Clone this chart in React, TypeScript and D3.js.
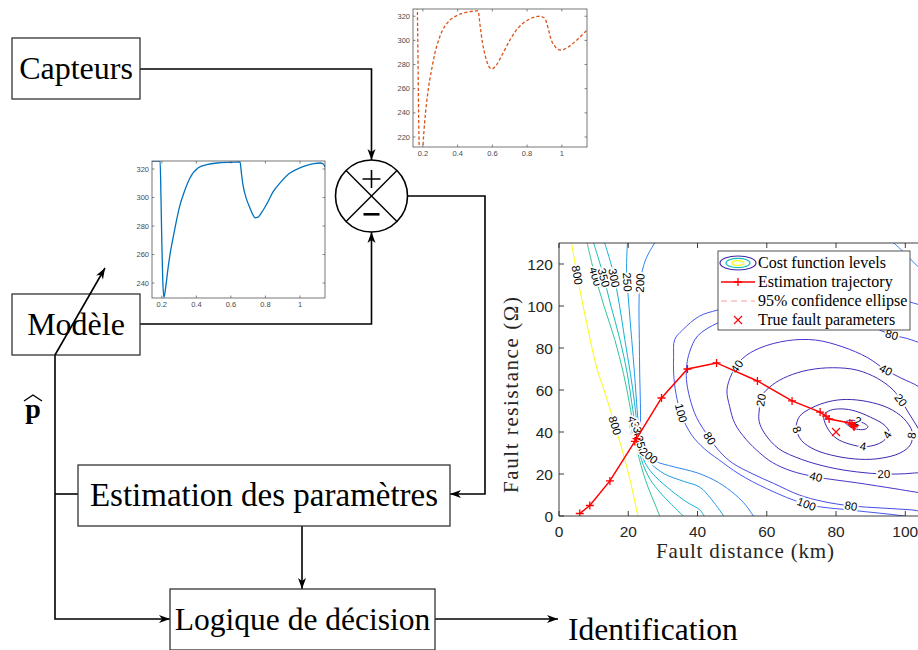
import React from 'react';
import * as d3 from 'd3';

type Pt = [number, number];

// ---------- Inset series: simulated model response and measured response ----------
const modelT = [0.143, 0.19, 0.195, 0.2, 0.205, 0.212, 0.22, 0.236, 0.25, 0.265, 0.285, 0.305, 0.33, 0.363, 0.409, 0.46, 0.52, 0.6, 0.653, 0.66, 0.67, 0.69, 0.71, 0.725, 0.74, 0.755, 0.78, 0.81, 0.844, 0.89, 0.942, 1.0, 1.04, 1.08, 1.116, 1.135, 1.145];
const modelV = [325.5, 325.5, 300, 268, 243, 230, 235, 250.5, 262, 271.6, 284, 294.7, 304, 313.7, 320.7, 323, 324.2, 324.7, 325, 318, 308.8, 299, 292.7, 288.5, 285.7, 286, 289.9, 296, 303.9, 311, 317.2, 320.8, 322.6, 323.7, 324.2, 323.5, 321.4];

const sensorT = [0.168, 0.171, 0.174, 0.177, 0.181, 0.187, 0.193, 0.2, 0.21, 0.229, 0.252, 0.27, 0.287, 0.31, 0.345, 0.402, 0.45, 0.5, 0.518, 0.529, 0.543, 0.558, 0.578, 0.598, 0.62, 0.656, 0.7, 0.748, 0.8, 0.846, 0.872, 0.9, 0.944, 0.97, 0.99, 1.012, 1.036, 1.08, 1.134, 1.145];
const sensorV = [328, 295, 255, 222, 200, 188, 195, 212, 232, 257.3, 277.1, 290, 298.7, 307.5, 315.2, 321, 323.3, 324.3, 324.5, 312.7, 298, 287.9, 279, 276.3, 279, 287.9, 300, 310.3, 316.5, 319.4, 320, 318.5, 298.7, 293.5, 292, 292.6, 294.5, 299.5, 307, 308.5];

const insetTimeTicks = [0.2, 0.4, 0.6, 0.8, 1];
const sensorValueTicks = [220, 240, 260, 280, 300, 320];
const modelValueTicks = [240, 260, 280, 300, 320];

// ---------- Cost-function contour lines: [fault distance (km), fault resistance (Ω)] ----------
const contourLevels = [2, 4, 8, 20, 40, 80, 100, 200, 250, 300, 350, 400, 800];

const c2: Pt[] = [[82.6, 44.6], [84, 45.5], [86, 45.4], [88, 44.2], [89.2, 42.6], [88.5, 41.4], [86.5, 41.2], [84.2, 42.4]];
const c4: Pt[] = [[76.5, 48], [78.3, 50.3], [81.7, 51], [85.5, 50], [90, 47], [93.8, 43.5], [95.3, 40], [93.5, 35.5], [88.6, 33], [84, 34.2], [80, 37.1], [77.3, 42.5]];
const c8: Pt[] = [[68.5, 42], [69.5, 47.5], [73, 51.5], [78, 54.5], [83, 55.5], [89, 54.5], [95, 51.5], [99.5, 46.5], [102, 40], [101.5, 34], [98.5, 30], [93, 27.5], [87, 27], [80, 28.5], [74, 31.5], [70, 36]];
const c20: Pt[] = [[57.8, 50], [58.5, 57], [61.6, 62.4], [66, 66.5], [72, 69.5], [79, 70.6], [86, 69.5], [92, 65.5], [96.5, 60], [98.7, 55.2], [101, 49], [104, 41], [107, 32], [107, 22], [102, 20.4], [93.8, 20], [86, 21], [78, 23.2], [70, 27], [63.5, 32], [59.5, 39], [57.8, 45]];
const c40: Pt[] = [[48.5, 60], [49.3, 52], [50.8, 44], [54, 36.5], [58, 30], [61.6, 25.5], [67, 21.5], [74.2, 18.6], [86, 15.8], [97, 13], [103, 11.4], [112, 9.5], [115, 30], [110, 52], [104, 61.4], [99, 65.5], [94.4, 69.5], [89, 75.5], [82, 80.5], [74, 83.8], [66, 83.5], [58, 80], [53, 75], [50, 68]];
const c80: Pt[] = [[36.9, 72], [36.8, 65], [37.8, 56], [39.7, 47], [43.5, 37], [46.5, 30.5], [50.1, 25.2], [56, 20], [62, 15.5], [69.4, 10], [76, 7], [84.3, 4.8], [93.2, 3.8], [101.9, 2.9], [112, 1.5], [118, 40], [110, 77], [101.9, 83.8], [96.1, 86.3], [88, 91.5], [78, 95.5], [67, 97.5], [57, 96], [50, 94], [45.8, 91.9], [40, 85.7], [37.7, 78]];
const c100: Pt[] = [[33.4, 84], [33.1, 76], [33.1, 68], [33.8, 58], [35.4, 48], [38.3, 38.6], [42, 32], [46, 27], [52, 20], [60, 13], [71.7, 5.5], [84.9, 2.7], [99.6, 0], [110, -3], [122, 30], [118, 90], [102.4, 101.4], [90, 105.5], [75, 107], [60, 104.5], [45.8, 98.1], [40.6, 95.2], [35.7, 88.6]];
const c200a: Pt[] = [[28, 131], [25, 122], [23.4, 111], [23.1, 100], [23.2, 84], [23.3, 68], [23.5, 54], [23.6, 42], [23.8, 36], [25, 30], [28, 26], [33, 23.5], [40, 20.5], [46, 16], [51, 10], [54, 5], [56.5, -1]];
const c200b: Pt[] = [[96, 131], [99, 126.5], [103.5, 119], [108, 112]];
const c250: Pt[] = [[19.8, 131], [19.5, 117], [20.2, 100], [21, 84], [21.8, 68], [22.4, 54], [23, 42], [23.3, 36], [24.3, 30], [26.5, 25], [30.5, 20], [36, 16.5], [40.6, 13.8], [44, 8], [48, -1]];
const c300: Pt[] = [[13, 131], [15.5, 117], [17.5, 100], [19, 84], [20.6, 68], [21.8, 54], [22.6, 42], [22.9, 36], [23.8, 30], [25.3, 24], [28, 18.5], [32.5, 12], [37, 6.5], [40.6, 3], [42.3, -1]];
const c350: Pt[] = [[9.8, 131], [12.4, 117], [15, 100], [17.6, 84], [19.7, 68], [21, 54], [22.1, 42], [22.6, 36], [23.3, 30], [24.4, 24], [26.3, 17.5], [29.3, 11], [32.5, 5.5], [36.5, -1]];
const c400: Pt[] = [[8, 131], [10, 117], [13, 100], [16.1, 84], [18.6, 68], [20.3, 54], [21.6, 42], [22.3, 36], [22.8, 30], [23.7, 24], [25, 17], [26.6, 10], [28, 4.5], [29.3, -1]];
const c800: Pt[] = [[3.5, 131], [6, 108], [8.3, 89.5], [10.9, 70.5], [13.2, 59], [15.5, 46.7], [18.4, 30.5], [20.4, 18], [22.9, -1]];

const contourLines: { level: number; closed: boolean; pts: Pt[] }[] = [
  { level: 800, closed: false, pts: c800 },
  { level: 400, closed: false, pts: c400 },
  { level: 350, closed: false, pts: c350 },
  { level: 300, closed: false, pts: c300 },
  { level: 250, closed: false, pts: c250 },
  { level: 200, closed: false, pts: c200a },
  { level: 200, closed: false, pts: c200b },
  { level: 100, closed: true, pts: c100 },
  { level: 80, closed: true, pts: c80 },
  { level: 40, closed: true, pts: c40 },
  { level: 20, closed: true, pts: c20 },
  { level: 8, closed: true, pts: c8 },
  { level: 4, closed: true, pts: c4 },
  { level: 2, closed: true, pts: c2 },
];

// contour label: [level, distance, resistance]
const contourLabels: [number, number, number][] = [
  [800, 5.5, 114.8], [800, 16.7, 43.3],
  [400, 10.1, 113.8], [350, 12.4, 113.3], [300, 15.5, 113.3], [250, 19.3, 111.4], [200, 23, 111],
  [400, 21.4, 43], [350, 22.2, 40.5], [300, 22.9, 38], [250, 24, 34], [200, 26.5, 30],
  [100, 35.1, 49], [100, 71.4, 5.5],
  [80, 43.5, 37], [80, 84.3, 4.8], [80, 96.1, 86.3],
  [40, 51.5, 71], [40, 74.2, 18.6], [40, 94.4, 69.5],
  [20, 58.4, 55.2], [20, 93.8, 20], [20, 98.7, 55.2],
  [8, 68.5, 41], [8, 100.7, 38.6],
  [4, 87.8, 32.9], [4, 94.4, 39],
  [2, 86.3, 45.2],
];

// Gauss-Newton estimation trajectory
const trajDistance = [6.0, 8.9, 14.7, 21.9, 22.4, 29.6, 37.1, 45.5, 57.3, 67.3, 75.4, 77.1, 78.0, 84.0, 85.2, 84.6, 85.4, 85.0];
const trajResistance = [1.2, 5.0, 16.7, 35.5, 36.8, 56.2, 70.0, 72.9, 64.3, 54.8, 49.5, 47.6, 46.2, 44.3, 42.4, 43.6, 43.0, 42.8];
const trueFault: Pt = [80, 40];

const distanceTicks = [0, 20, 40, 60, 80, 100];
const resistanceTicks = [0, 20, 40, 60, 80, 100, 120];
const legendLabels = ['Cost function levels', 'Estimation trajectory', '95% confidence ellipse', 'True fault parameters'];

// parula-like colormap
const parulaStops = [0, 0.05, 0.12, 0.25, 0.31, 0.37, 0.44, 0.5, 0.62, 0.75, 0.88, 1];
const parulaColors = ['#3e26a8', '#4535d0', '#4856f0', '#2f86f2', '#1e9de6', '#10b2d6', '#18bdb9', '#35c49b', '#8cc45c', '#d7ba3f', '#fbc638', '#f9fb0e'];
const parula = d3.scaleLinear<string>().domain(parulaStops).range(parulaColors).interpolate(d3.interpolateRgb);
const lvMin = d3.min(contourLevels) as number;
const lvMax = d3.max(contourLevels) as number;
const levelColor = (lv: number) => parula((lv - lvMin) / (lvMax - lvMin));

const SERIF = '"Liberation Serif", "Times New Roman", serif';
const SANS = '"Liberation Sans", Arial, Helvetica, sans-serif';

// ---------- helpers ----------
function arrowHead(x1: number, y1: number, x2: number, y2: number, L = 11, w = 4) {
  const a = Math.atan2(y2 - y1, x2 - x1);
  const c = Math.cos(a), s = Math.sin(a);
  const bx = x2 - L * c, by = y2 - L * s;
  const nx = x2 - 0.72 * L * c, ny = y2 - 0.72 * L * s;
  return `M${x2},${y2}L${bx - w * s},${by + w * c}L${nx},${ny}L${bx + w * s},${by - w * c}Z`;
}

function Wire({ pts, arrow = true }: { pts: Pt[]; arrow?: boolean }) {
  const n = pts.length;
  const d = 'M' + pts.map((p) => p.join(',')).join('L');
  return (
    <g>
      <path d={d} fill="none" stroke="#000" strokeWidth={1.6} />
      {arrow && <path d={arrowHead(pts[n - 2][0], pts[n - 2][1], pts[n - 1][0], pts[n - 1][1])} fill="#000" />}
    </g>
  );
}

function Block({ x, y, w, h, label, size = 32 }: { x: number; y: number; w: number; h: number; label: string; size?: number }) {
  return (
    <g>
      <rect x={x} y={y} width={w} height={h} fill="#fff" stroke="#333" strokeWidth={1.3} />
      <text x={x + w / 2} y={y + h / 2 + size * 0.33} textAnchor="middle" fontFamily={SERIF} fontSize={size} fill="#000">
        {label}
      </text>
    </g>
  );
}

function Inset({ x0, y0, w, h, t, v, vDomain, vTicks, color, dashed }: {
  x0: number; y0: number; w: number; h: number; t: number[]; v: number[];
  vDomain: [number, number]; vTicks: number[]; color: string; dashed: boolean;
}) {
  const xs = d3.scaleLinear().domain([0.143, 1.145]).range([x0, x0 + w]);
  const ys = d3.scaleLinear().domain(vDomain).range([y0 + h, y0]);
  const line = d3.line<number>().x((_, i) => xs(t[i])).y((d) => ys(d)).curve(d3.curveMonotoneX);
  const id = `clip-${x0}`;
  return (
    <g>
      <rect x={x0} y={y0} width={w} height={h} fill="#fff" />
      <clipPath id={id}><rect x={x0} y={y0} width={w} height={h} /></clipPath>
      <path d={line(v) || ''} fill="none" stroke={color} strokeWidth={1.3} strokeDasharray={dashed ? '3.2,2.2' : undefined} clipPath={`url(#${id})`} />
      <rect x={x0} y={y0} width={w} height={h} fill="none" stroke="#555" strokeWidth={0.8} />
      {insetTimeTicks.map((tk) => (
        <g key={tk}>
          <line x1={xs(tk)} x2={xs(tk)} y1={y0 + h} y2={y0 + h - 2.5} stroke="#555" strokeWidth={0.7} />
          <line x1={xs(tk)} x2={xs(tk)} y1={y0} y2={y0 + 2.5} stroke="#555" strokeWidth={0.7} />
          <text x={xs(tk)} y={y0 + h + 9} textAnchor="middle" fontFamily={SANS} fontSize={7.5} fill="#4a4a4a">{tk}</text>
        </g>
      ))}
      {vTicks.map((tk) => (
        <g key={tk}>
          <line x1={x0} x2={x0 + 2.5} y1={ys(tk)} y2={ys(tk)} stroke="#555" strokeWidth={0.7} />
          <line x1={x0 + w} x2={x0 + w - 2.5} y1={ys(tk)} y2={ys(tk)} stroke="#555" strokeWidth={0.7} />
          <text x={x0 - 3} y={ys(tk) + 2.6} textAnchor="end" fontFamily={SANS} fontSize={7.5} fill="#4a4a4a">{tk}</text>
        </g>
      ))}
    </g>
  );
}

function ContourChart() {
  const left = 559, top = 243, bottom = 516;
  const xs = d3.scaleLinear().domain([0, 105]).range([left, left + 105 * 3.463]);
  const ys = d3.scaleLinear().domain([0, 130]).range([bottom, top]);
  const right = xs(105);
  const axis = '#262626';

  const pathOf = (pts: Pt[], closed: boolean) =>
    d3.line<Pt>().x((p) => xs(p[0])).y((p) => ys(p[1]))
      .curve(closed ? d3.curveCatmullRomClosed.alpha(0.5) : d3.curveCatmullRom.alpha(0.5))(pts) || '';

  // put each label on its contour, aligned with the local direction of the line
  const placed = contourLabels.map(([lv, lx, ly]) => {
    const px = xs(lx), py = ys(ly);
    let best = { d: Infinity, x: px, y: py, ang: 0 };
    contourLines.filter((c) => c.level === lv).forEach((c) => {
      const pts = c.pts.map((p) => [xs(p[0]), ys(p[1])]);
      const n = c.closed ? pts.length : pts.length - 1;
      for (let i = 0; i < n; i++) {
        const a = pts[i], b = pts[(i + 1) % pts.length];
        const dx = b[0] - a[0], dy = b[1] - a[1];
        const len2 = dx * dx + dy * dy || 1;
        let u = ((px - a[0]) * dx + (py - a[1]) * dy) / len2;
        u = Math.max(0, Math.min(1, u));
        const qx = a[0] + u * dx, qy = a[1] + u * dy;
        const dd = (qx - px) ** 2 + (qy - py) ** 2;
        if (dd < best.d) {
          let ang = (Math.atan2(dy, dx) * 180) / Math.PI;
          if (ang > 90) ang -= 180;
          if (ang < -90) ang += 180;
          best = { d: dd, x: qx, y: qy, ang };
        }
      }
    });
    return { lv, ...best };
  });

  const traj: Pt[] = trajDistance.map((d, i) => [d, trajResistance[i]]);
  const trajLine = d3.line<Pt>().x((p) => xs(p[0])).y((p) => ys(p[1]))(traj) || '';

  const lgX = 718, lgY = 251, lgW = 192, lgH = 79;
  const rowY = [263, 282, 301, 320];

  return (
    <g>
      <clipPath id="plotclip"><rect x={left} y={top} width={right - left} height={bottom - top} /></clipPath>
      <g clipPath="url(#plotclip)">
        {contourLines.map((c, i) => (
          <path key={i} d={pathOf(c.pts, c.closed)} fill="none" stroke={levelColor(c.level)} strokeWidth={1} />
        ))}
        {placed.map((p, i) => (
          <text key={i} transform={`translate(${p.x},${p.y}) rotate(${p.ang})`} textAnchor="middle" dy="0.35em"
            fontFamily={SANS} fontSize={11.5} fill="#000" stroke="#fff" strokeWidth={3.5} paintOrder="stroke">
            {p.lv}
          </text>
        ))}
        <path d={trajLine} fill="none" stroke="#ff0000" strokeWidth={1.5} />
        {traj.map((p, i) => (
          <path key={i} d={`M${xs(p[0]) - 4},${ys(p[1])}h8M${xs(p[0])},${ys(p[1]) - 4}v8`} stroke="#ff0000" strokeWidth={1.3} />
        ))}
        <path d={`M${xs(trueFault[0]) - 4},${ys(trueFault[1]) - 4}l8,8M${xs(trueFault[0]) - 4},${ys(trueFault[1]) + 4}l8,-8`} stroke="#ff0000" strokeWidth={1.1} />
      </g>
      {/* axes box and ticks */}
      <path d={`M${right},${top}H${left}V${bottom}H${right}`} fill="none" stroke={axis} strokeWidth={0.9} />
      {distanceTicks.map((t) => (
        <g key={t}>
          <line x1={xs(t)} x2={xs(t)} y1={bottom} y2={bottom - 5} stroke={axis} strokeWidth={0.9} />
          <line x1={xs(t)} x2={xs(t)} y1={top} y2={top + 5} stroke={axis} strokeWidth={0.9} />
          <text x={xs(t)} y={bottom + 21} textAnchor="middle" fontFamily={SANS} fontSize={15.5} fill={axis}>{t}</text>
        </g>
      ))}
      {resistanceTicks.map((t) => (
        <g key={t}>
          <line x1={left} x2={left + 5} y1={ys(t)} y2={ys(t)} stroke={axis} strokeWidth={0.9} />
          <text x={left - 6} y={ys(t)} dy="0.36em" textAnchor="end" fontFamily={SANS} fontSize={15.5} fill={axis}>{t}</text>
        </g>
      ))}
      <text x={745} y={558} textAnchor="middle" fontFamily={SERIF} fontSize={21} fill={axis} textLength={178} lengthAdjust="spacing">
        Fault distance (km)
      </text>
      <text transform="translate(518,395) rotate(-90)" textAnchor="middle" fontFamily={SERIF} fontSize={21} fill={axis} textLength={196} lengthAdjust="spacing">
        Fault resistance (Ω)
      </text>
      {/* legend */}
      <rect x={lgX} y={lgY} width={lgW} height={lgH} fill="#fff" stroke={axis} strokeWidth={0.8} />
      <ellipse cx={738} cy={rowY[0]} rx={18} ry={7} fill="none" stroke={levelColor(2)} strokeWidth={1.2} />
      <ellipse cx={738} cy={rowY[0]} rx={12} ry={4.6} fill="none" stroke={levelColor(350)} strokeWidth={1.2} />
      <ellipse cx={738} cy={rowY[0]} rx={6} ry={2.4} fill="none" stroke={levelColor(800)} strokeWidth={1.2} />
      <line x1={721} x2={755} y1={rowY[1]} y2={rowY[1]} stroke="#ff0000" strokeWidth={1.5} />
      <path d={`M734,${rowY[1]}h8M738,${rowY[1] - 4}v8`} stroke="#ff0000" strokeWidth={1.3} />
      <line x1={721} x2={755} y1={rowY[2]} y2={rowY[2]} stroke="#ff9c9c" strokeWidth={1.2} strokeDasharray="6,4" />
      <path d={`M734,${rowY[3] - 4}l8,8M734,${rowY[3] + 4}l8,-8`} stroke="#ff0000" strokeWidth={1.1} />
      {legendLabels.map((s, i) => (
        <text key={s} x={758} y={rowY[i]} dy="0.33em" fontFamily={SERIF} fontSize={16} fill="#000">{s}</text>
      ))}
    </g>
  );
}

export default function App() {
  const cx = 371.5, cy = 196, r = 36;
  const d45 = r * Math.SQRT1_2;
  return (
    <svg width={918} height={650} viewBox="0 0 918 650" style={{ position: 'absolute', left: 0, top: 0, background: '#fff' }}
      xmlns="http://www.w3.org/2000/svg">
      <rect width={918} height={650} fill="#fff" />

      {/* signal wiring */}
      <Wire pts={[[140, 69], [cx, 69], [cx, cy - r]]} />
      <Wire pts={[[140, 324], [cx, 324], [cx, cy + r]]} />
      <Wire pts={[[cx + r, cy], [485, cy], [485, 494], [450, 494]]} />
      <Wire pts={[[302, 526], [302, 589]]} />
      <Wire pts={[[435, 619], [558, 619]]} />
      <Wire pts={[[55, 355], [55, 619], [170, 619]]} />
      <Wire pts={[[55, 494], [78, 494]]} arrow={false} />

      {/* comparator */}
      <circle cx={cx} cy={cy} r={r} fill="#fff" stroke="#000" strokeWidth={1.6} />
      <line x1={cx - d45} y1={cy - d45} x2={cx + d45} y2={cy + d45} stroke="#000" strokeWidth={1.4} />
      <line x1={cx - d45} y1={cy + d45} x2={cx + d45} y2={cy - d45} stroke="#000" strokeWidth={1.4} />
      <path d={`M${cx - 9},${cy - 17}h18M${cx},${cy - 26}v18`} stroke="#000" strokeWidth={1.6} />
      <rect x={cx - 8} y={cy + 17} width={16} height={2.6} fill="#000" />

      <Block x={12} y={38} w={128} h={61} label="Capteurs" />
      <Block x={12} y={294} w={128} h={61} label="Modèle" />
      <Block x={78} y={465} w={372} h={61} label="Estimation des paramètres" size={33} />
      <Block x={170} y={589} w={265} h={61} label="Logique de décision" size={31.5} />
      <text x={568} y={640} fontFamily={SERIF} fontSize={31.5} fill="#000">Identification</text>

      {/* parameter adjustment arrow across the model */}
      <Wire pts={[[55, 355], [105, 268]]} />

      {/* parameter vector */}
      <text x={33} y={418} textAnchor="middle" fontFamily={SERIF} fontWeight="bold" fontSize={28} fill="#000">p</text>
      <path d="M24,401L33,395L42,401" fill="none" stroke="#000" strokeWidth={1.4} />

      <Inset x0={413} y0={9} w={174} h={138} t={sensorT} v={sensorV} vDomain={[211.7, 326]} vTicks={sensorValueTicks} color="#d95319" dashed />
      <Inset x0={152} y0={161} w={173} h={137} t={modelT} v={modelV} vDomain={[229.5, 325.6]} vTicks={modelValueTicks} color="#0072bd" dashed={false} />

      <ContourChart />
    </svg>
  );
}
